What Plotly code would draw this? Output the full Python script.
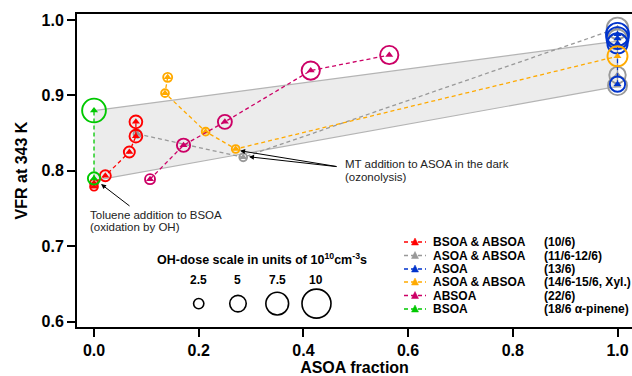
import plotly.graph_objects as go

# ---------------- data ----------------
series_names = ["BSOA & ABSOA", "ASOA & ABSOA", "ASOA", "ASOA & ABSOA", "ABSOA", "BSOA"]
series_dates = ["(10/6)", "(11/6-12/6)", "(13/6)", "(14/6-15/6, Xyl.)", "(22/6)", "(18/6 \u03b1-pinene)"]
series_colors = ["#ff0000", "#999999", "#0033cc", "#ffaa00", "#cc0066", "#00c800"]

# BSOA & ABSOA (10/6)
red_x = [0.0, 0.0, 0.0216, 0.0675, 0.080, 0.080]
red_y = [0.779, 0.784, 0.7935, 0.825, 0.846, 0.865]
red_dose = [1.5, 1.5, 2.8, 2.8, 3.5, 3.5]

# ASOA & ABSOA (11/6-12/6)
gray_x = [0.083, 0.285, 1.0, 1.0, 1.0, 1.0]
gray_y = [0.849, 0.818, 0.989, 0.975, 0.927, 0.913]
gray_dose = [1.5, 1.5, 7.0, 6.0, 5.0, 6.0]

# ASOA (13/6)
blue_x = [1.0, 1.0, 1.0, 1.0]
blue_y = [0.915, 0.969, 0.976, 0.981]
blue_dose = [4.5, 6.5, 7.2, 7.6]

# ASOA & ABSOA (14/6-15/6, Xyl.)
orange_x = [0.1407, 0.1356, 0.2133, 0.2706, 1.0]
orange_y = [0.924, 0.903, 0.852, 0.829, 0.952]
orange_dose = [2.0, 1.5, 1.5, 1.5, 6.4]

# ABSOA (22/6)
mag_x = [0.107, 0.171, 0.250, 0.414, 0.564]
mag_y = [0.789, 0.834, 0.865, 0.933, 0.9536]
mag_dose = [2.4, 3.7, 4.0, 5.7, 5.7]

# BSOA (18/6 alpha-pinene)
green_x = [0.0, 0.0]
green_y = [0.790, 0.880]
green_dose = [3.3, 7.9]

# grey band (lower / upper boundary)
band_x = [0.0, 1.0]
band_lo = [0.787, 0.912]
band_hi = [0.880, 0.972]

# OH-dose size scale
scale_dose = [2.5, 5, 7.5, 10]
scale_labels = ["2.5", "5", "7.5", "10"]

x_ticks = [0.0, 0.2, 0.4, 0.6, 0.8, 1.0]
y_ticks = [0.6, 0.7, 0.8, 0.9, 1.0]

# ---------------- layout helpers ----------------
W, H = 632, 376
L, T, R, B = 77, 14, 632, 327
FONT = "Liberation Sans, Arial, sans-serif"


def px(x):
    return (x - L) / (R - L)


def py(y):
    return (B - y) / (B - T)


def dia(d):
    return 4 + 2.5 * d


fig = go.Figure()

# band
fig.add_trace(go.Scatter(x=band_x, y=band_lo, mode="lines",
                         line=dict(color="#b4b4b4", width=1.2), hoverinfo="skip", showlegend=False))
fig.add_trace(go.Scatter(x=band_x, y=band_hi, mode="lines", fill="tonexty",
                         fillcolor="#ececec",
                         line=dict(color="#b4b4b4", width=1.2), hoverinfo="skip", showlegend=False))

series = [
    (gray_x, gray_y, gray_dose, series_colors[1]),
    (red_x, red_y, red_dose, series_colors[0]),
    (blue_x, blue_y, blue_dose, series_colors[2]),
    (orange_x, orange_y, orange_dose, series_colors[3]),
    (mag_x, mag_y, mag_dose, series_colors[4]),
    (green_x, green_y, green_dose, series_colors[5]),
]

for xs, ys, ds, col in series:
    fig.add_trace(go.Scatter(
        x=xs, y=ys, mode="lines+markers",
        line=dict(color=col, width=1.3, dash="4px,3px"),
        marker=dict(symbol="triangle-up", size=7, color=col, opacity=1, line=dict(width=0)),
        showlegend=False, hoverinfo="skip"))
    fig.add_trace(go.Scatter(
        x=xs, y=ys, mode="markers",
        marker=dict(symbol="circle-open", size=[dia(d) for d in ds], color=col, opacity=1,
                    line=dict(width=1.9, color=col)),
        showlegend=False, hoverinfo="skip"))

# OH-dose scale circles
scale_pos_x = [0.2, 0.275, 0.35, 0.425]
scale_pos_y = 0.624
fig.add_trace(go.Scatter(
    x=scale_pos_x, y=[scale_pos_y] * len(scale_dose), mode="markers",
    marker=dict(symbol="circle-open", size=[dia(d) for d in scale_dose], color="black", opacity=1,
                line=dict(width=1.6, color="black")),
    showlegend=False, hoverinfo="skip"))

annotations = []
for xv, lab in zip(scale_pos_x, scale_labels):
    annotations.append(dict(x=xv, y=0.655, xref="x", yref="y", text=f"<b>{lab}</b>",
                            showarrow=False, font=dict(size=12, family=FONT, color="black"),
                            xanchor="center", yanchor="middle"))
annotations.append(dict(x=px(155), y=py(259), xref="paper", yref="paper",
                        text="<b>OH-dose scale in units of 10<sup>10</sup>cm<sup>-3</sup>s</b>",
                        showarrow=False, font=dict(size=12.5, family=FONT, color="black"),
                        xanchor="left", yanchor="middle"))

# text annotations with arrows
annotations.append(dict(x=0.279, y=0.8267, xref="x", yref="y", ax=98, ay=16, axref="pixel", ayref="pixel",
                        text="", showarrow=True, arrowhead=2, arrowsize=1, arrowwidth=1, arrowcolor="black"))
annotations.append(dict(x=0.296, y=0.8187, xref="x", yref="y", ax=89, ay=10, axref="pixel", ayref="pixel",
                        text="", showarrow=True, arrowhead=2, arrowsize=1, arrowwidth=1, arrowcolor="black"))
annotations.append(dict(x=0.0134, y=0.7825, xref="x", yref="y", ax=30, ay=23, axref="pixel", ayref="pixel",
                        text="", showarrow=True, arrowhead=2, arrowsize=1, arrowwidth=1, arrowcolor="black"))

for txt, xp, yp in [("MT addition to ASOA in the dark", 343, 163.5),
                    ("(ozonolysis)", 343, 176.5),
                    ("Toluene addition to BSOA", 87.5, 214.5),
                    ("(oxidation by OH)", 87.5, 227)]:
    annotations.append(dict(x=px(xp), y=py(yp), xref="paper", yref="paper", text=txt,
                            showarrow=False, font=dict(size=11.5, family=FONT, color="#222222"),
                            xanchor="left", yanchor="middle"))

# legend (custom)
shapes = []
row_y = [242, 255.5, 269, 282, 295.5, 309]
for name, date, col, yy in zip(series_names, series_dates, series_colors, row_y):
    shapes.append(dict(type="line", xref="paper", yref="paper", x0=px(404), x1=px(426),
                       y0=py(yy), y1=py(yy), line=dict(color=col, width=1.3, dash="4px,3px")))
    tri = (f"M {px(411.5)},{py(yy + 3)} L {px(418.5)},{py(yy + 3)} "
           f"L {px(415)},{py(yy - 4)} Z")
    shapes.append(dict(type="path", xref="paper", yref="paper", path=tri,
                       fillcolor=col, line=dict(color=col, width=0.5)))
    annotations.append(dict(x=px(431), y=py(yy), xref="paper", yref="paper", text=f"<b>{name}</b>",
                            showarrow=False, font=dict(size=12, family=FONT, color="black"),
                            xanchor="left", yanchor="middle"))
    annotations.append(dict(x=px(541.5), y=py(yy), xref="paper", yref="paper", text=f"<b>{date}</b>",
                            showarrow=False, font=dict(size=12, family=FONT, color="black"),
                            xanchor="left", yanchor="middle"))

fig.update_layout(
    width=W, height=H, autosize=False,
    margin=dict(l=L, r=W - R, t=T, b=H - B, pad=0),
    paper_bgcolor="white", plot_bgcolor="white",
    font=dict(family=FONT, color="black"),
    annotations=annotations, shapes=shapes,
    showlegend=False,
)
fig.update_xaxes(
    range=[-0.0325, 1.0277], tickvals=x_ticks, tickformat=".1f",
    showgrid=False, zeroline=False, showline=True, linecolor="black", linewidth=2,
    mirror=True, ticks="outside", ticklen=8, tickwidth=2, tickcolor="black",
    tickfont=dict(size=16, family=FONT, weight="bold"),
    title=dict(text="<b>ASOA fraction</b>", font=dict(size=16, family=FONT), standoff=3),
)
fig.update_yaxes(
    range=[0.593, 1.008], tickvals=y_ticks, tickformat=".1f",
    showgrid=False, zeroline=False, showline=True, linecolor="black", linewidth=2,
    mirror=False, ticks="outside", ticklen=8, tickwidth=2, tickcolor="black",
    tickfont=dict(size=16, family=FONT, weight="bold"),
    title=dict(text="<b>VFR at 343 K</b>", font=dict(size=16, family=FONT), standoff=10),
)

fig.write_html("out.html", config={"displayModeBar": False},
               post_script="document.body.style.margin='0px';document.body.style.overflow='hidden';")
